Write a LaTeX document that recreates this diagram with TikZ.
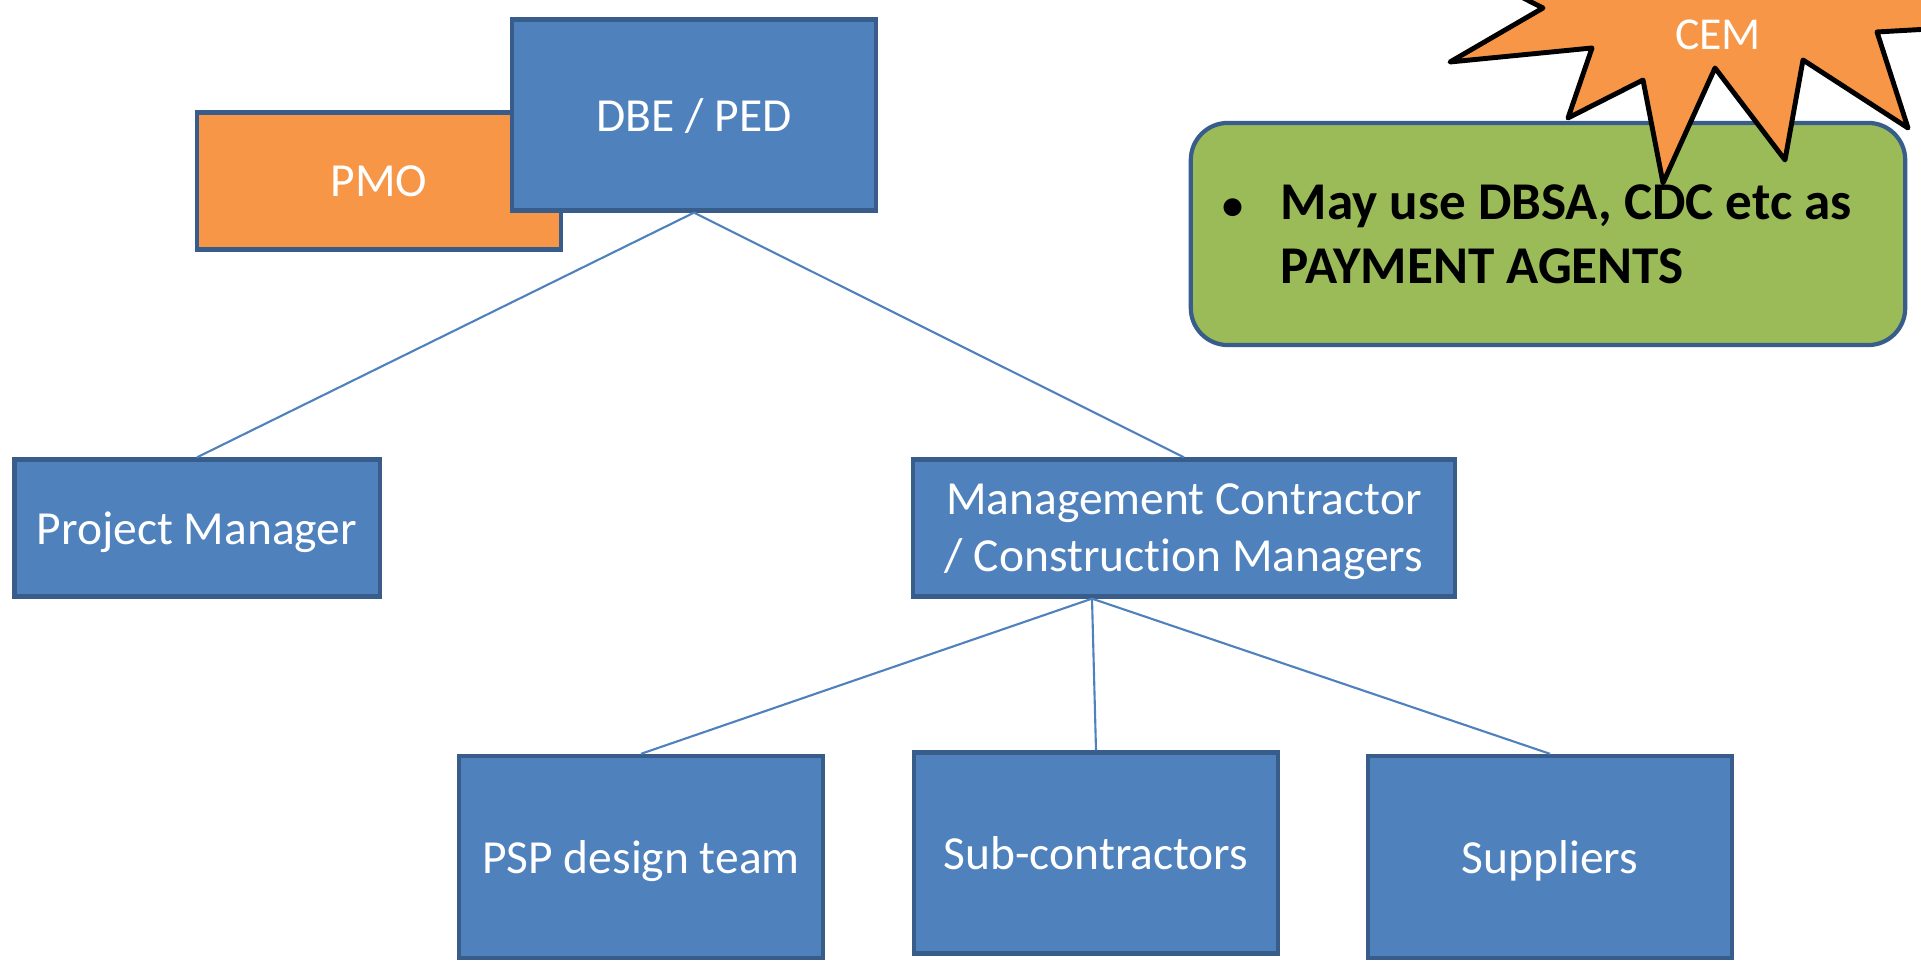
\documentclass[tikz,border=0pt]{standalone}
\usepackage{fontspec}
\setmainfont{Carlito}[Ligatures=NoCommon]
\usetikzlibrary{calc}
\definecolor{boxblue}{HTML}{4F81BD}
\definecolor{boxedge}{HTML}{385D8A}
\definecolor{pmoorange}{HTML}{F79646}
\definecolor{notegreen}{HTML}{9BBB59}

\begin{document}
\begin{tikzpicture}[x=0.01cm,y=-0.01cm,
    orgbox/.style={draw=boxedge,line width=1.2pt,fill=boxblue,text=white,
      minimum width=3.64cm,minimum height=1.37cm,inner sep=2pt,align=center,
      text depth=0pt,font=\fontsize{13.5}{16.2}\selectfont},
    tallbox/.style={orgbox,minimum height=2.02cm},
    link/.style={draw=boxblue,line width=0.6pt}]
    \useasboundingbox (0,0) rectangle (1921,965);
    \node[orgbox,fill=pmoorange] (PMO) at (379,181) {PMO};
    \node[orgbox,minimum height=1.91cm] (DBE) at (694,115) {DBE / PED};
    \node[orgbox,minimum width=3.65cm] (PM) at (197,528) {Project Manager};
    \node[orgbox,minimum width=5.42cm] (MC) at (1184,528) {Management Contractor\\/ Construction Managers};
    \node[tallbox] (PSP) at (641,857) {PSP design team};
    \node[tallbox,minimum height=2.01cm] (SUB) at (1096,853) {Sub-contractors};
    \node[tallbox] (SUP) at (1550,857) {Suppliers};
    \coordinate (MCfoot) at ($(MC.south)+(-92,0)$);
    \draw[link] (DBE.south) -- (PM.north);
    \draw[link] (DBE.south) -- (MC.north);
    \draw[link] (MCfoot) -- (PSP.north);
    \draw[link] (MCfoot) -- (SUB.north);
    \draw[link] (MCfoot) -- (SUP.north);
    \node[draw=boxedge,line width=1.2pt,fill=notegreen,rounded corners=0.37cm,
      minimum width=7.14cm,minimum height=2.22cm] (NOTE) at (1548,234) {};
    \node[anchor=base west,inner sep=0pt,font=\fontsize{15.1}{18.2}\selectfont\bfseries] (NOTEtext) at (1222,220)
      {\begin{tabular}[t]{@{}l@{}l@{}}\makebox[0.58cm][l]{\fontsize{12}{12}\selectfont\textbullet} & May use DBSA, CDC etc as\\ & PAYMENT AGENTS\end{tabular}};
    \draw[fill=pmoorange,line width=1.4pt,line join=round]
      (1450,62) -- (1592,48) -- (1568,118) -- (1643,80) -- (1663,183) -- (1715,68)
      -- (1785,160) -- (1803,60) -- (1908,128) -- (1877,32) -- (2000,25) -- (2000,-100)
      -- (1600,-100) -- (1470,-29) -- (1543,8) -- cycle;
    \node[text=white,font=\fontsize{13}{16}\selectfont] (CEM) at (1718,35) {CEM};
\end{tikzpicture}
\end{document}
